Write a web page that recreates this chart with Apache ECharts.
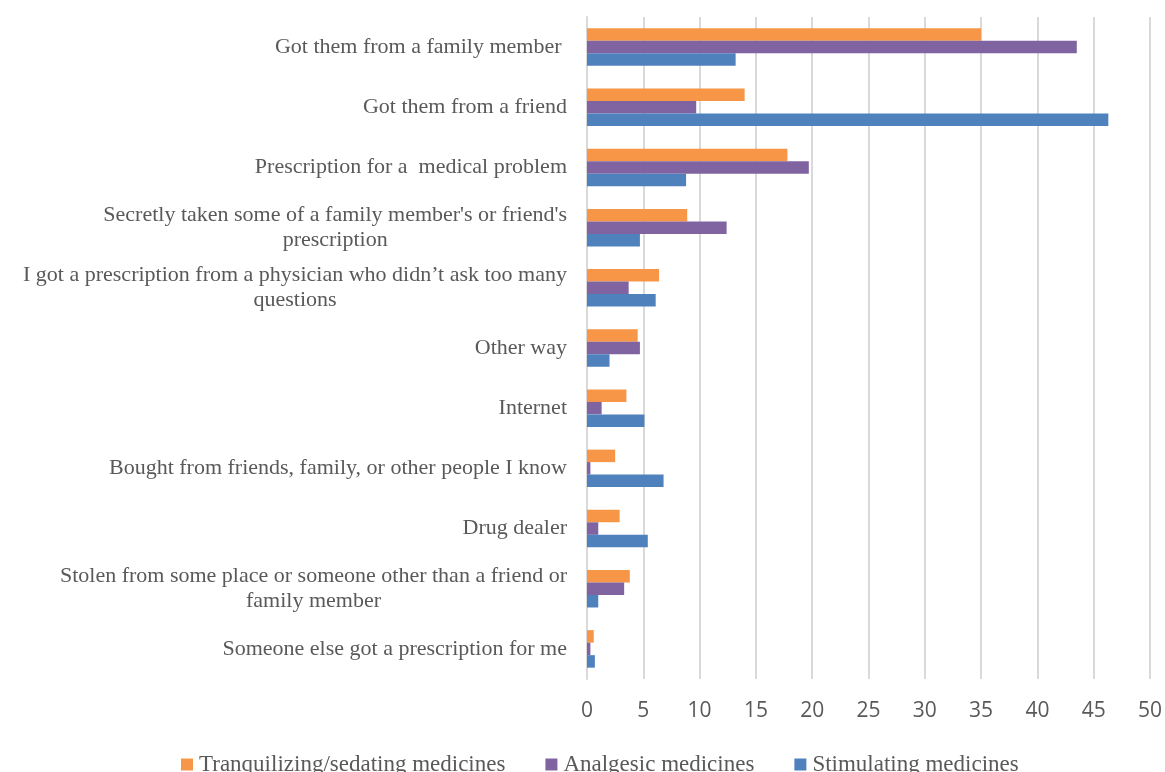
<!DOCTYPE html>
<html><head><meta charset="utf-8">
<script src="https://cdn.jsdelivr.net/npm/echarts@6/dist/echarts.min.js"></script>
<style>html,body{margin:0;padding:0;background:#fff}#c{width:1165px;height:772px}</style>
</head><body><div id="c"></div>
<script>
const categories = [
  ["Got them from a family member "],
  ["Got them from a friend"],
  ["Prescription for a  medical problem"],
  ["Secretly taken some of a family member's or friend's", "prescription"],
  ["I got a prescription from a physician who didn\u2019t ask too many", "questions"],
  ["Other way"],
  ["Internet"],
  ["Bought from friends, family, or other people I know"],
  ["Drug dealer"],
  ["Stolen from some place or someone other than a friend or", "family member"],
  ["Someone else got a prescription for me"]
];
const seriesNames = ["Tranquilizing/sedating medicines", "Analgesic medicines", "Stimulating medicines"];
const tranquilizing = [35.0, 14.0, 17.8, 8.9, 6.4, 4.5, 3.5, 2.5, 2.9, 3.8, 0.6];
const analgesic = [43.5, 9.7, 19.7, 12.4, 3.7, 4.7, 1.3, 0.3, 1.0, 3.3, 0.3];
const stimulating = [13.2, 46.3, 8.8, 4.7, 6.1, 2.0, 5.1, 6.8, 5.4, 1.0, 0.7];
const xTicks = {min: 0, max: 50, interval: 5};
const colors = ["#f79646", "#8064a2", "#4f81bd"];

const catKeys = categories.map(c => c.join(" "));
const lookup = {};
categories.forEach((c, i) => lookup[catKeys[i]] = c);

const chart = echarts.init(document.getElementById('c'));
const values = [tranquilizing, analgesic, stimulating];
chart.setOption({
  animation: false,
  color: colors,
  grid: {left: 587, right: 15, top: 17, bottom: 93, containLabel: false},
  legend: {
    bottom: -9, left: 176, itemWidth: 12, itemHeight: 12, itemGap: 40,
    icon: 'rect',
    textStyle: {fontFamily: 'Liberation Serif', fontSize: 23, color: '#595959', padding: [0,0,0,1]},
    data: seriesNames
  },
  xAxis: {
    type: 'value', min: xTicks.min, max: xTicks.max, interval: xTicks.interval,
    axisLine: {show: false}, axisTick: {show: false},
    splitLine: {lineStyle: {color: '#d9d9d9', width: 2}},
    axisLabel: {fontFamily: 'Open Sans, Liberation Sans', fontSize: 21, color: '#595959', margin: 22}
  },
  yAxis: {
    type: 'category', inverse: true, data: catKeys,
    axisLine: {lineStyle: {color: '#d9d9d9', width: 2}}, axisTick: {show: false},
    axisLabel: {
      margin: 20, align: 'right', color: '#595959', fontFamily: 'Liberation Serif', fontSize: 22,
      lineHeight: 25,
      formatter: v => lookup[v].map(l => '{c|' + l + '}').join('\n'),
      rich: {c: {align: 'center', fontFamily: 'Liberation Serif', fontSize: 22, color: '#595959', lineHeight: 25}}
    }
  },
  series: seriesNames.map((n, i) => ({
    name: n, type: 'bar', data: values[i], barWidth: 12.5, barGap: '0%'
  }))
});
</script></body></html>
